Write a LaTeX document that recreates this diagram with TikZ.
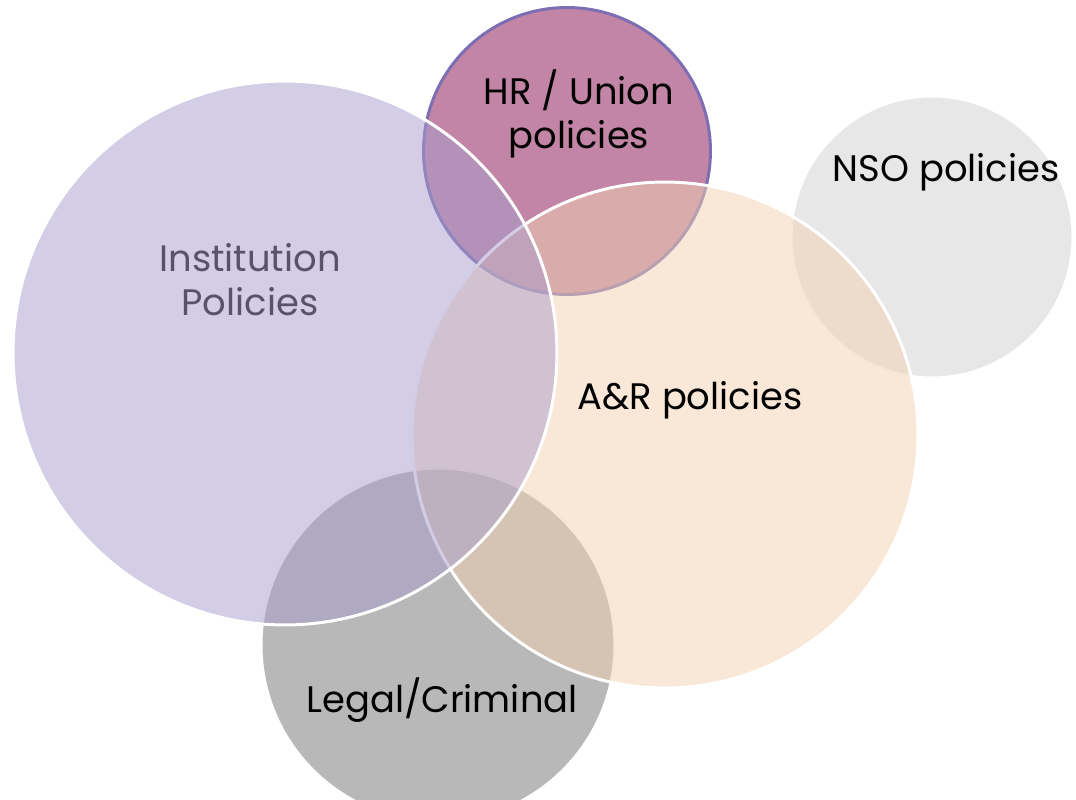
\documentclass[tikz,border=0pt]{standalone}
\usepackage{fontspec}
\setmainfont{Poppins}
\definecolor{instfill}{RGB}{167,157,203}
\definecolor{hrfill}{RGB}{194,133,166}
\definecolor{hredge}{RGB}{124,110,178}
\definecolor{arfill}{RGB}{243,209,177}
\definecolor{nsofill}{RGB}{207,207,207}
\definecolor{legalfill}{RGB}{113,113,113}
\definecolor{insttext}{RGB}{88,82,110}

\begin{document}
\begin{tikzpicture}[x=0.02cm, y=-0.02cm,
   set/.style={circle, draw=white, line width=1.7pt, fill opacity=0.5, inner sep=0pt},
   lbl/.style={align=center, font=\fontsize{21}{25}\selectfont},]
   \useasboundingbox (0,0) rectangle (1076,800);
   % circles, lowest first
   \node[set, fill=legalfill, minimum size=7.08cm] (legal) at (438,645) {};
   \node[set, fill=nsofill, minimum size=5.64cm] (nso) at (932,237) {};
   \node[set, fill=hrfill, fill opacity=1, draw=hredge, minimum size=5.74cm] (hr) at (567,151) {};
   \node[set, fill=arfill, minimum size=10.12cm] (ar) at (665,435) {};
   \node[set, fill=instfill, minimum size=10.88cm] (inst) at (285,353) {};

   \node[lbl] (hrtxt) at (579,114) {HR / Union\\policies};
   \node[lbl] (nsotxt) at (946,172) {NSO policies};
   \node[lbl, text=insttext] (insttxt) at (250,280) {Institution\\Policies};
   \node[lbl] (artxt) at (690,400) {A\&R policies};
   \node[lbl] (legaltxt) at (442,700) {Legal/Criminal};

\end{tikzpicture}
\end{document}
